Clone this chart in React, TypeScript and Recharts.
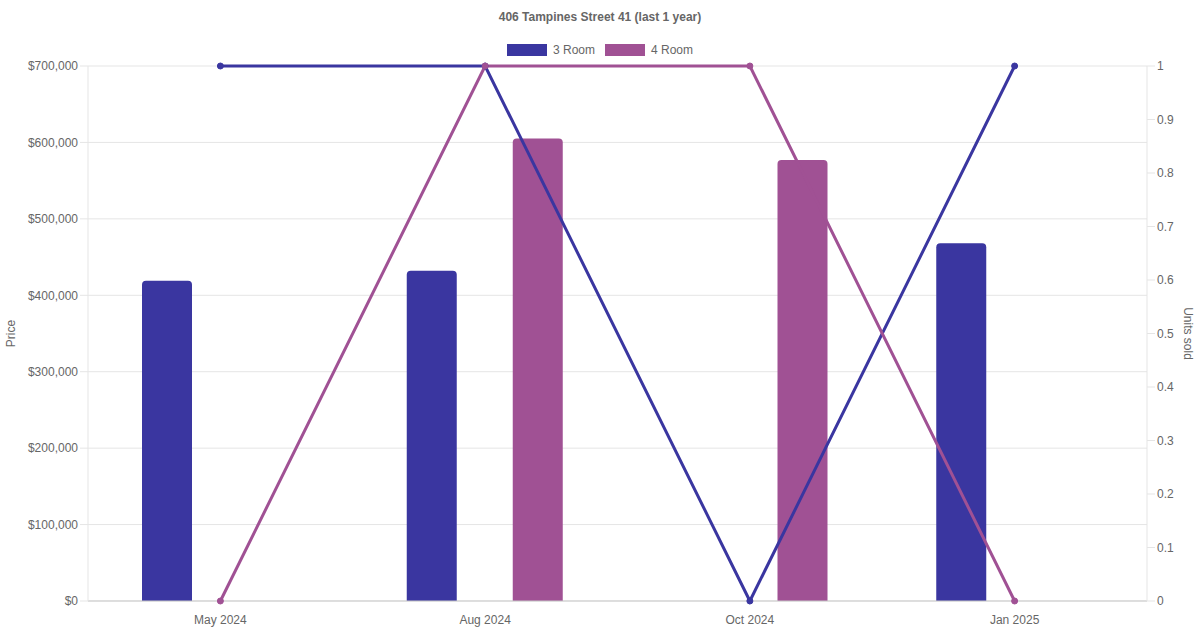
import React from 'react';
import {
  ComposedChart,
  Bar,
  Line,
  XAxis,
  YAxis,
  CartesianGrid,
} from 'recharts';

const categories = ['May 2024', 'Aug 2024', 'Oct 2024', 'Jan 2025'];
const threeRoomPrice: (number | null)[] = [419000, 432000, null, 468000];
const fourRoomPrice: (number | null)[] = [null, 605000, 577000, null];
const threeRoomUnits = [1, 1, 0, 1];
const fourRoomUnits = [0, 1, 1, 0];
const priceTicks = [0, 100000, 200000, 300000, 400000, 500000, 600000, 700000];
const unitTicks = [0, 0.1, 0.2, 0.3, 0.4, 0.5, 0.6, 0.7, 0.8, 0.9, 1];

const BLUE = '#3a36a0';
const PURPLE = '#a05194';
const TEXT = '#666666';
const GRID = '#e5e5e5';
const FONT = '"Liberation Sans", Arial, Helvetica, sans-serif';

const data = categories.map((c, i) => ({
  month: c,
  p3: threeRoomPrice[i],
  p4: fourRoomPrice[i],
  u3: threeRoomUnits[i],
  u4: fourRoomUnits[i],
}));

const fmtPrice = (v: number) => '$' + v.toLocaleString('en-US');

export default function App() {
  const tickStyle = { fill: TEXT, fontSize: 12, fontFamily: FONT };
  return (
    <div
      style={{
        position: 'absolute',
        left: 0,
        top: 0,
        width: 1200,
        height: 630,
        background: '#fff',
        fontFamily: FONT,
      }}
    >
      <div
        style={{
          position: 'absolute',
          top: 9,
          left: 0,
          width: 1200,
          textAlign: 'center',
          fontSize: 12,
          fontWeight: 'bold',
          color: TEXT,
          lineHeight: '16px',
        }}
      >
        406 Tampines Street 41 (last 1 year)
      </div>
      <div
        style={{
          position: 'absolute',
          top: 42,
          left: 0,
          width: 1200,
          display: 'flex',
          justifyContent: 'center',
          fontSize: 12,
          color: TEXT,
          lineHeight: '16px',
        }}
      >
        <div style={{ display: 'flex', alignItems: 'center', marginRight: 10 }}>
          <span style={{ display: 'inline-block', width: 40, height: 12, background: BLUE, marginRight: 6 }} />
          <span>3 Room</span>
        </div>
        <div style={{ display: 'flex', alignItems: 'center' }}>
          <span style={{ display: 'inline-block', width: 40, height: 12, background: PURPLE, marginRight: 6 }} />
          <span>4 Room</span>
        </div>
      </div>
      <ComposedChart
        width={1200}
        height={630}
        data={data}
        margin={{ top: 66, right: 7, bottom: 0, left: 6 }}
        barSize={50}
        barGap={56}
      >
        <CartesianGrid yAxisId="left" vertical={false} stroke={GRID} />
        <XAxis
          dataKey="month"
          tick={tickStyle}
          tickLine={false}
          tickSize={8}
          tickMargin={6}
          height={29}
          axisLine={{ stroke: '#c9c9c9' }}
        />
        <YAxis
          yAxisId="left"
          orientation="left"
          width={82}
          domain={[0, 700000]}
          ticks={priceTicks}
          tickFormatter={fmtPrice}
          tick={tickStyle}
          tickSize={8}
          tickMargin={2}
          tickLine={{ stroke: GRID }}
          axisLine={{ stroke: GRID }}
          label={{ value: 'Price', angle: -90, position: 'insideLeft', fill: TEXT, fontSize: 12, fontFamily: FONT, style: { textAnchor: 'middle' } }}
        />
        <YAxis
          yAxisId="right"
          orientation="right"
          width={46}
          domain={[0, 1]}
          ticks={unitTicks}
          tick={tickStyle}
          tickSize={8}
          tickMargin={2}
          tickLine={{ stroke: GRID }}
          axisLine={{ stroke: GRID }}
          label={{ value: 'Units sold', angle: 90, position: 'insideRight', fill: TEXT, fontSize: 12, fontFamily: FONT, style: { textAnchor: 'middle' } }}
        />
        <Bar yAxisId="left" dataKey="p3" name="3 Room" fill={BLUE} radius={[4, 4, 0, 0]} isAnimationActive={false} />
        <Bar yAxisId="left" dataKey="p4" name="4 Room" fill={PURPLE} radius={[4, 4, 0, 0]} isAnimationActive={false} />
        <Line
          yAxisId="right"
          type="linear"
          dataKey="u3"
          name="3 Room units"
          stroke={BLUE}
          strokeWidth={3}
          dot={{ r: 3, fill: BLUE, stroke: BLUE, strokeWidth: 1 }}
          activeDot={false}
          isAnimationActive={false}
        />
        <Line
          yAxisId="right"
          type="linear"
          dataKey="u4"
          name="4 Room units"
          stroke={PURPLE}
          strokeWidth={3}
          dot={{ r: 3, fill: PURPLE, stroke: PURPLE, strokeWidth: 1 }}
          activeDot={false}
          isAnimationActive={false}
        />
      </ComposedChart>
    </div>
  );
}
